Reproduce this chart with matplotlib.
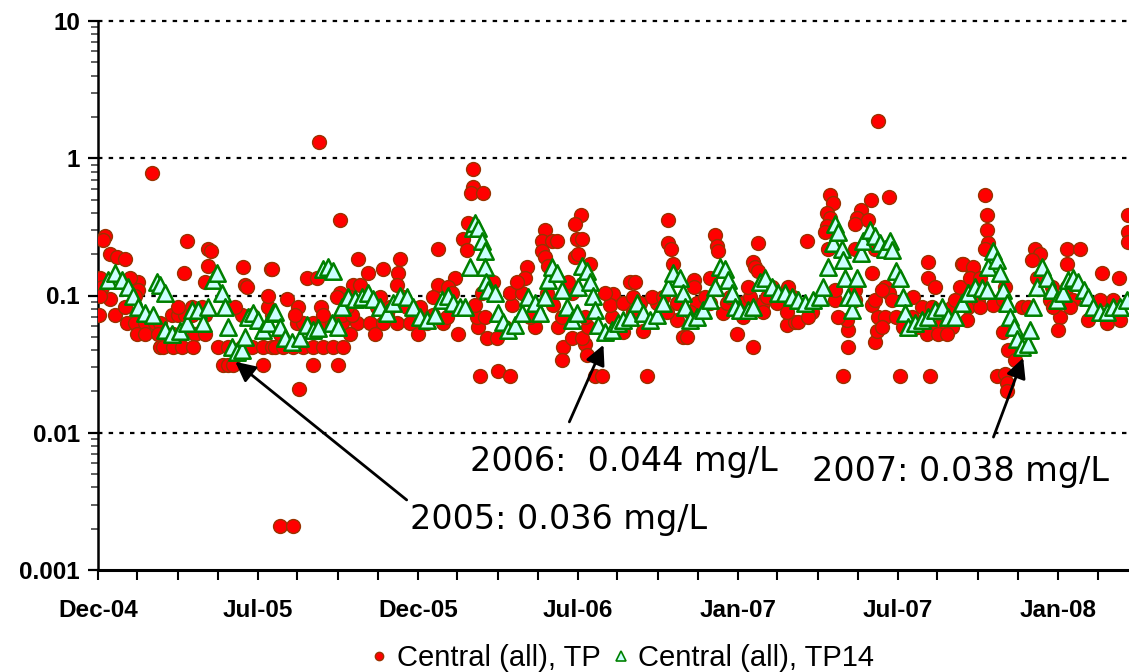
import datetime as dt
import matplotlib
matplotlib.use("Agg")
import matplotlib.pyplot as plt
import matplotlib.dates as mdates
from matplotlib.lines import Line2D
from matplotlib.ticker import FixedLocator, FuncFormatter, LogLocator, NullFormatter

# sampling days are counted from 30 Dec 2004 (left end of the axis)
start = dt.date(2004, 12, 30)

# Central (all), TP  -- individual samples (mg/L)
tp_day = [
    62, 8, 6, 14, 22, 31, 102, 126, 129, 126, 98, 166, 198, 122, 168, 170, 2, 5, 1, 14, 19, 46, 31, 37, 46,
    33, 42, 54, 65, 71,
    45, 54, 69, 86, 96, 111, 122,
    71, 74, 86, 96, 109, 137, 149, 165, 176, 189, 199,
    143, 149, 154, 189,
    85, 92, 100, 108, 122, 165, 176, 199,
    92, 108, 119, 157, 194,
    2, 42, 194,
    277, 389, 297, 345, 343, 342, 309, 326, 199, 239, 250, 216, 229, 255, 277, 292, 300, 389, 230, 208, 223, 253,
    228, 234, 246, 256, 268, 279, 296, 311, 326, 342, 357, 376, 395,
    225, 257, 279, 290, 331, 372, 383,
    208, 288, 317, 366,
    202, 212, 223, 234, 246, 257, 269, 280,
    246, 275,
    285, 319, 334, 353, 368,
    273, 288, 323, 349, 383,
    429, 429, 427, 440, 423, 417, 422, 408, 400, 412, 437, 457, 471, 491, 488, 511, 508, 519, 525, 508,
    511, 515, 552, 546, 548, 554, 546, 549, 563, 589, 532, 531, 568, 576, 557, 559,
    445, 456, 542, 554,
    435, 465, 500, 526, 560, 595,
    399, 433, 443, 494, 531, 557, 588,
    403, 431, 474, 520, 586,
    405, 439, 471, 485, 514, 542, 580,
    452, 479, 538,
    652, 652, 655, 658, 706, 708, 709, 755, 749, 751, 755, 608, 614, 681, 700, 628, 731, 749, 669, 674,
    788, 797, 600, 623, 715, 738, 662,
    600, 620, 639, 662, 685, 700, 719, 738, 761, 777, 791,
    612, 634, 646, 694, 723, 746, 765, 795,
    612, 651, 677, 734, 761, 788,
    681, 743, 771, 789,
    904, 884, 837, 840, 834, 837, 834, 831, 872, 868, 866, 880, 811, 885, 949, 949, 957, 988, 1000, 858,
    852, 917, 952, 889, 891, 858, 857, 801, 885, 900, 904, 908, 932, 817, 892,
    812, 846, 892, 900, 912, 931, 965,
    897, 920, 938, 961, 977,
    948, 961, 971,
    942, 954, 977, 995,
    843, 866, 889, 980,
    843, 866, 897,
    835, 866, 889,
    1014, 1017, 1017, 1018, 1014, 1072, 1077, 1068, 1108, 1108, 1123, 1148, 1167, 1178, 1178, 1178, 989, 1001,
    1057, 1035, 1041, 1049, 1028, 1037, 1040, 1040, 1100, 1098, 994, 1132, 1154, 1169, 1024,
    1006, 1035, 1089, 1115, 1146, 1161,
    1009, 1063, 1092, 1112, 1165,
    986, 1003, 1037, 1091, 1108,
    997, 1009, 1074,
]
tp_val = [
    0.78, 0.27, 0.255, 0.20, 0.19, 0.185, 0.25, 0.22, 0.21, 0.165, 0.145, 0.16, 0.155, 0.125, 0.12, 0.115, 0.135, 0.115, 0.072, 0.095, 0.072, 0.125, 0.083, 0.135, 0.11,
    0.063, 0.063, 0.063, 0.063, 0.063,
    0.052, 0.052, 0.052, 0.052, 0.052, 0.052, 0.052,
    0.042, 0.042, 0.042, 0.042, 0.042, 0.042, 0.042, 0.042, 0.042, 0.042, 0.042,
    0.031, 0.031, 0.031, 0.031,
    0.072, 0.072, 0.072, 0.072, 0.072, 0.072, 0.072, 0.072,
    0.083, 0.083, 0.083, 0.083, 0.083,
    0.1, 0.1, 0.1,
    0.356, 0.22, 0.185, 0.185, 0.145, 0.12, 0.145, 0.155, 0.155, 0.135, 0.135, 0.095, 0.083, 0.083, 0.104, 0.12, 0.12, 0.12, 0.021, 0.0021, 0.0021, 1.31,
    0.063, 0.063, 0.063, 0.063, 0.063, 0.063, 0.063, 0.063, 0.063, 0.063, 0.063, 0.063, 0.063,
    0.072, 0.072, 0.072, 0.072, 0.072, 0.072, 0.072,
    0.052, 0.052, 0.052, 0.052,
    0.042, 0.042, 0.042, 0.042, 0.042, 0.042, 0.042, 0.042,
    0.031, 0.031,
    0.083, 0.083, 0.083, 0.083, 0.083,
    0.097, 0.097, 0.097, 0.097, 0.097,
    0.836, 0.62, 0.56, 0.56, 0.34, 0.26, 0.215, 0.135, 0.115, 0.052, 0.026, 0.028, 0.026, 0.16, 0.135, 0.30, 0.25, 0.25, 0.25, 0.21,
    0.19, 0.165, 0.386, 0.33, 0.26, 0.26, 0.19, 0.2, 0.17, 0.102, 0.042, 0.034, 0.026, 0.026, 0.044, 0.037,
    0.049, 0.049, 0.049, 0.049,
    0.059, 0.059, 0.059, 0.059, 0.059, 0.059,
    0.07, 0.07, 0.07, 0.07, 0.07, 0.07, 0.07,
    0.085, 0.085, 0.085, 0.085, 0.085,
    0.104, 0.104, 0.104, 0.104, 0.104, 0.104, 0.104,
    0.125, 0.125, 0.125,
    0.356, 0.24, 0.22, 0.17, 0.275, 0.23, 0.21, 0.24, 0.175, 0.16, 0.15, 0.125, 0.125, 0.13, 0.135, 0.026, 0.052, 0.042, 0.05, 0.05,
    0.061, 0.064, 0.054, 0.055, 0.075, 0.07, 0.066,
    0.088, 0.088, 0.088, 0.088, 0.088, 0.088, 0.088, 0.088, 0.088, 0.088, 0.088,
    0.098, 0.098, 0.098, 0.098, 0.098, 0.098, 0.098, 0.098,
    0.076, 0.076, 0.076, 0.076, 0.076, 0.076,
    0.115, 0.115, 0.115, 0.115,
    0.52, 0.5, 0.54, 0.47, 0.40, 0.37, 0.32, 0.29, 0.42, 0.37, 0.33, 0.356, 0.25, 0.145, 0.175, 0.135, 0.115, 0.17, 0.155, 0.042,
    0.026, 0.026, 0.026, 0.046, 0.055, 0.056, 0.066, 0.064, 0.085, 0.115, 0.104, 0.093, 0.098, 0.076, 1.87,
    0.07, 0.07, 0.07, 0.07, 0.07, 0.07, 0.07,
    0.059, 0.059, 0.059, 0.059, 0.059,
    0.052, 0.052, 0.052,
    0.083, 0.083, 0.083, 0.083,
    0.093, 0.093, 0.093, 0.093,
    0.11, 0.11, 0.11,
    0.22, 0.22, 0.22,
    0.54, 0.386, 0.30, 0.24, 0.22, 0.22, 0.2, 0.18, 0.22, 0.17, 0.22, 0.145, 0.135, 0.386, 0.29, 0.245, 0.17, 0.16,
    0.083, 0.054, 0.04, 0.034, 0.026, 0.027, 0.023, 0.02, 0.07, 0.056, 0.066, 0.066, 0.063, 0.066, 0.085,
    0.093, 0.093, 0.093, 0.093, 0.093, 0.093,
    0.082, 0.082, 0.082, 0.082, 0.082,
    0.115, 0.115, 0.115, 0.115, 0.115,
    0.135, 0.135, 0.135,
]

# Central (all), TP14 (mg/L)
tp14_day = [
    11, 19, 27, 34, 40, 46, 54, 63, 67, 71, 77, 77, 85, 94, 102, 108, 114, 120, 126, 132, 136, 142, 145, 149,
    153, 159, 165, 168, 172, 177, 183, 189, 194, 200,
    202, 208, 214, 222, 231, 239, 246, 252, 257, 263, 269, 268, 275, 279, 286, 294, 302, 309, 315, 323, 331,
    337, 345, 353, 360, 368, 376, 385, 393, 400,
    406, 414, 420, 425, 429, 431, 435, 439, 442, 443, 444, 446, 454, 457, 463, 469, 477, 485, 492, 500, 506,
    511, 515, 519, 525, 531, 536, 542, 548, 549, 554, 559, 563, 566, 568, 572, 580, 588, 595,
    600, 608, 616, 623, 631, 639, 646, 652, 658, 666, 669, 671, 677, 685, 692, 700, 706, 711, 717, 721, 725,
    729, 734, 743, 749, 757, 763, 771, 778, 786, 794, 801,
    809, 818, 826, 829, 835, 840, 843, 846, 851, 852, 854, 858, 862, 864, 868, 872, 875, 883, 889, 894, 900,
    906, 908, 912, 917, 921, 923, 926, 934, 942, 949, 957, 965, 972, 980, 988, 995, 1003,
    1011, 1017, 1018, 1024, 1028, 1032, 1035, 1040, 1043, 1047, 1051, 1057, 1063, 1066, 1069, 1074, 1080,
    1085, 1091, 1097, 1103, 1109, 1115, 1121, 1127, 1132, 1138, 1146, 1154, 1161, 1169, 1177,
]
tp14_val = [
    0.13, 0.145, 0.13, 0.115, 0.1, 0.082, 0.075, 0.072, 0.125, 0.12, 0.105, 0.056, 0.052, 0.055, 0.063, 0.078, 0.078, 0.063, 0.083, 0.13, 0.145, 0.104, 0.083, 0.059,
    0.042, 0.039, 0.04, 0.05, 0.07, 0.075, 0.066, 0.056, 0.063, 0.075,
    0.076, 0.059, 0.049, 0.046, 0.049, 0.061, 0.056, 0.058, 0.155, 0.16, 0.15, 0.063, 0.059, 0.083, 0.098, 0.095, 0.098, 0.104, 0.095, 0.082, 0.075,
    0.088, 0.1, 0.098, 0.083, 0.07, 0.066, 0.072, 0.093, 0.1,
    0.088, 0.083, 0.083, 0.16, 0.31, 0.34, 0.31, 0.25, 0.21, 0.16, 0.125, 0.11, 0.104, 0.075, 0.064, 0.056, 0.061, 0.075, 0.098, 0.088, 0.075,
    0.098, 0.13, 0.16, 0.145, 0.11, 0.083, 0.066, 0.075, 0.115, 0.165, 0.15, 0.125, 0.1, 0.078, 0.061, 0.054, 0.056, 0.063,
    0.066, 0.07, 0.088, 0.075, 0.066, 0.072, 0.088, 0.115, 0.145, 0.135, 0.104, 0.083, 0.066, 0.07, 0.078, 0.093, 0.115, 0.16, 0.155, 0.13, 0.104,
    0.083, 0.078, 0.078, 0.083, 0.125, 0.135, 0.115, 0.104, 0.104, 0.098, 0.093,
    0.088, 0.093, 0.098, 0.115, 0.16, 0.24, 0.33, 0.29, 0.22, 0.18, 0.135, 0.098, 0.078, 0.098, 0.135, 0.205, 0.25, 0.30, 0.27, 0.24, 0.22,
    0.25, 0.215, 0.15, 0.135, 0.098, 0.075, 0.059, 0.063, 0.066, 0.07, 0.078, 0.082, 0.07, 0.07, 0.088, 0.104, 0.115,
    0.113, 0.11, 0.16, 0.21, 0.18, 0.145, 0.11, 0.088, 0.07, 0.059, 0.048, 0.042, 0.044, 0.056, 0.083, 0.115, 0.16,
    0.135, 0.11, 0.093, 0.104, 0.13, 0.135, 0.125, 0.11, 0.098, 0.083, 0.076, 0.076, 0.082, 0.083, 0.093,
]

# yearly minima callouts: label, arrow head (day, value), arrow tail (day, value), label anchor (day, value)
notes = ["2005: 0.036 mg/L", "2006:  0.044 mg/L", "2007: 0.038 mg/L"]
note_head = [(157, 0.0329), (578, 0.0437), (1058, 0.0351)]
note_tail = [(353, 0.00324), (539, 0.012), (1024, 0.0093)]
note_text = [(357, 0.00232), (425, 0.00614), (817, 0.00519)]

y_ticks = [0.001, 0.01, 0.1, 1, 10]


def to_num(d):
    return mdates.date2num(start + dt.timedelta(days=d))


fig = plt.figure(figsize=(11.29, 6.72), dpi=100)
ax = fig.add_axes([98 / 1129, 102 / 672, 1031 / 1129, 549 / 672])

ax.scatter([to_num(d) for d in tp_day], tp_val, s=100, marker="o",
           facecolor="#FF0000", edgecolor="#993300", linewidth=1.0, zorder=3)
ax.scatter([to_num(d) for d in tp14_day], tp14_val, s=140, marker="^",
           facecolor="#CCFFFF", edgecolor="#008000", linewidth=1.8, zorder=4)

ax.set_yscale("log")
ax.set_ylim(0.001, 10)
ax.set_xlim(to_num(0), to_num(1179))

for yv in y_ticks[1:]:
    ax.axhline(yv, color="black", linestyle=(0, (2, 2.8)), linewidth=1.6, clip_on=False, zorder=2)

ax.yaxis.set_major_locator(FixedLocator(y_ticks))
ax.yaxis.set_major_formatter(FuncFormatter(lambda v, _: f"{v:g}"))
ax.yaxis.set_minor_locator(LogLocator(base=10, subs=range(2, 10)))
ax.yaxis.set_minor_formatter(NullFormatter())

ax.xaxis.set_major_locator(FixedLocator([to_num(183 * k) for k in range(7)]))
ax.xaxis.set_minor_locator(FixedLocator([to_num(45.75 * k) for k in range(27)]))
ax.xaxis.set_major_formatter(mdates.DateFormatter("%b-%y"))

for lab in ax.get_xticklabels() + ax.get_yticklabels():
    lab.set_family("Liberation Sans")
    lab.set_fontweight("bold")
    lab.set_fontsize(17.5)

ax.tick_params(axis="y", which="major", direction="out", length=7, width=1.6, pad=6)
ax.tick_params(axis="y", which="minor", direction="out", length=5, width=1.2, color="#444444")
ax.tick_params(axis="x", which="both", direction="out", length=7, width=1.5)
ax.tick_params(axis="x", which="major", pad=14)

ax.spines[["top", "right"]].set_visible(False)
ax.spines["left"].set_linewidth(1.8)
ax.spines["bottom"].set_linewidth(2.2)

for label, head, tail, pos in zip(notes, note_head, note_tail, note_text):
    ax.annotate("", xy=(to_num(head[0]), head[1]), xytext=(to_num(tail[0]), tail[1]),
                arrowprops=dict(arrowstyle="-|>", color="black", lw=2, mutation_scale=30,
                                shrinkA=0, shrinkB=0), zorder=6)
    ax.text(to_num(pos[0]), pos[1], label, ha="left", va="center",
            fontsize=24, family="DejaVu Sans", zorder=6)

handles = [
    Line2D([], [], linestyle="none", marker="o", markersize=6,
           markerfacecolor="#FF0000", markeredgecolor="#993300"),
    Line2D([], [], linestyle="none", marker="^", markersize=7,
           markerfacecolor="#CCFFFF", markeredgecolor="#008000", markeredgewidth=1.2),
]
fig.legend(handles, ["Central (all), TP", "Central (all), TP14"], loc="center",
           bbox_to_anchor=(0.55, 0.021), ncol=2, frameon=False,
           prop={"family": "Liberation Sans", "size": 21},
           handletextpad=0.2, columnspacing=0.3, handlelength=0.8)

fig.savefig("out.png", dpi=100)
